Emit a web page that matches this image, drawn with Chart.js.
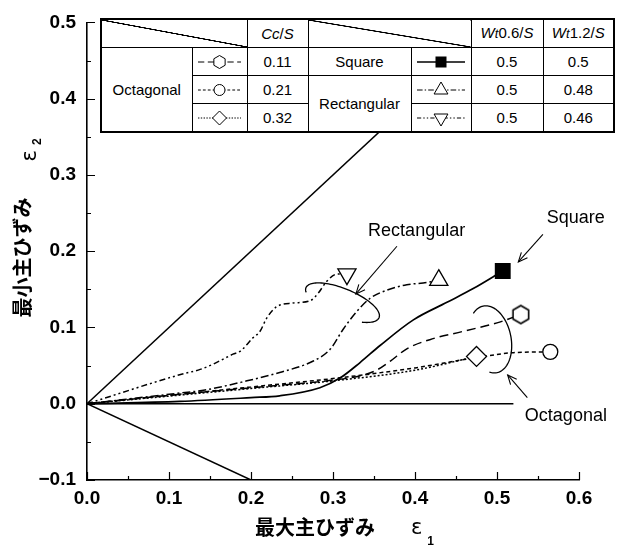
<!DOCTYPE html>
<html lang="ja">
<head>
<meta charset="utf-8">
<title>最大主ひずみ・最小主ひずみ</title>
<script src="https://cdn.jsdelivr.net/npm/chart.js@4.4.1/dist/chart.umd.min.js"></script>
<style>
  html, body { margin: 0; padding: 0; background: #fff; }
  #wrap { position: relative; width: 627px; height: 556px; overflow: hidden; }
  #chart { position: absolute; left: 0; top: 0; }
  #spec {
    position: absolute; left: 100px; top: 18px; width: 513px;
    border-collapse: collapse; table-layout: fixed; background: #fff;
    border: 2px solid #000;
    font-family: 'Liberation Sans', Arial, sans-serif; font-size: 15px; color: #000;
  }
  #spec td {
    border: 1px solid #000; padding: 0; text-align: center; vertical-align: middle;
    height: 27px; line-height: 16px; white-space: nowrap;
  }
  #spec td.diag {
    background: linear-gradient(to top right,
      transparent calc(50% - 0.8px), #000 calc(50% - 0.5px),
      #000 calc(50% + 0.5px), transparent calc(50% + 0.8px));
  }
  #spec i { font-style: italic; }
  #spec i.t { font-size: 13px; }
  #spec svg { display: block; margin: 0 auto; }
</style>
</head>
<body>
<div id="wrap">
  <canvas id="chart" width="627" height="556"></canvas>
  <table id="spec">
    <colgroup>
      <col style="width:91px"><col style="width:55px"><col style="width:61px">
      <col style="width:103px"><col style="width:60px"><col style="width:72px"><col style="width:71px">
    </colgroup>
    <tbody id="specBody"></tbody>
  </table>
</div>
<script>
// ---------- axis ticks ----------
const xTickValues = [0, 0.1, 0.2, 0.3, 0.4, 0.5, 0.6];
const yTickValues = [-0.1, 0, 0.1, 0.2, 0.3, 0.4, 0.5];

// ---------- reference lines ----------
const equalX = [0, 0.5];   const equalY = [0, 0.5];    // ε2 = ε1
const shearX = [0, 0.2];   const shearY = [0, -0.1];   // ε2 = -ε1/2
const zeroX  = [0, 0.52];  const zeroY  = [0, 0];      // ε2 = 0

// ---------- Octagonal (Cc/S = 0.11, 0.21, 0.32) ----------
const oct011X = [0, 0.1, 0.2, 0.3, 0.335, 0.353, 0.37, 0.39, 0.418, 0.459, 0.5, 0.529];
const oct011Y = [0, 0.011, 0.021, 0.031, 0.037, 0.044, 0.056, 0.072, 0.084, 0.095, 0.106, 0.117];
const oct021X = [0, 0.1, 0.2, 0.3, 0.4, 0.46, 0.49, 0.52, 0.565];
const oct021Y = [0, 0.011, 0.022, 0.033, 0.047, 0.058, 0.063, 0.067, 0.068];
const oct032X = [0, 0.1, 0.2, 0.3, 0.4, 0.475];
const oct032Y = [0, 0.010, 0.020, 0.030, 0.044, 0.062];

// ---------- Square ----------
const squareX = [0, 0.113, 0.2, 0.235, 0.284, 0.309, 0.333, 0.357, 0.398, 0.439, 0.471, 0.507];
const squareY = [0, 0.003, 0.008, 0.0104, 0.021, 0.034, 0.054, 0.076, 0.110, 0.133, 0.151, 0.174];

// ---------- Rectangular (Wt1.2/S = 0.48, 0.46) ----------
const rect048X = [0, 0.113, 0.144, 0.195, 0.235, 0.276, 0.297, 0.312, 0.329, 0.345, 0.366, 0.39, 0.415, 0.429];
const rect048Y = [0, 0.014, 0.018, 0.030, 0.041, 0.056, 0.072, 0.097, 0.121, 0.138, 0.149, 0.156, 0.159, 0.162];
const rect046X = [0, 0.113, 0.138, 0.154, 0.178, 0.187, 0.202, 0.211, 0.219, 0.231, 0.251, 0.272, 0.282, 0.292, 0.305, 0.317];
const rect046Y = [0, 0.038, 0.045, 0.052, 0.065, 0.069, 0.086, 0.095, 0.112, 0.127, 0.132, 0.135, 0.145, 0.160, 0.170, 0.170];

// ---------- specimen table ----------
const octagonalCcS = [0.11, 0.21, 0.32];
const squareRectWt06 = [0.5, 0.5, 0.5];
const squareRectWt12 = [0.5, 0.48, 0.46];

const pts = (xs, ys) => xs.map((x, i) => ({ x, y: ys[i] }));

// line styles shared by the plot and the table samples
const styles = {
  hex:     { dash: [9, 5] },
  circle:  { dash: [4, 3] },
  diamond: { dash: [2, 2] },
  square:  { dash: [] },
  triUp:   { dash: [8, 3, 2, 3] },
  triDown: { dash: [6, 3, 2, 3, 2, 3] }
};

// hexagon marker drawn once into a small canvas
function hexagonImage(r, lw) {
  const s = 2 * Math.ceil(r + lw + 1);
  const c = document.createElement('canvas');
  c.width = s; c.height = s;
  const g = c.getContext('2d');
  g.beginPath();
  for (let i = 0; i < 6; i++) {
    const a = Math.PI / 2 + i * Math.PI / 3;
    const px = s / 2 + r * Math.cos(a), py = s / 2 + r * Math.sin(a);
    i ? g.lineTo(px, py) : g.moveTo(px, py);
  }
  g.closePath();
  g.fillStyle = '#fff'; g.fill();
  g.lineWidth = lw; g.strokeStyle = '#000'; g.stroke();
  return c;
}
const hexImg = hexagonImage(9, 1.6);

// small legend samples for the table
function sampleSvg(kind, w) {
  const h = 22, cy = 11, m = 5, cx = w / 2;
  let mk = '';
  if (kind === 'hex') {
    const r = 6.5, p = [];
    for (let i = 0; i < 6; i++) {
      const a = Math.PI / 2 + i * Math.PI / 3;
      p.push((cx + r * Math.cos(a)).toFixed(2) + ',' + (cy + r * Math.sin(a)).toFixed(2));
    }
    mk = `<polygon points="${p.join(' ')}" fill="#fff" stroke="#000" stroke-width="1"/>`;
  } else if (kind === 'circle') {
    mk = `<circle cx="${cx}" cy="${cy}" r="5.5" fill="#fff" stroke="#000" stroke-width="1"/>`;
  } else if (kind === 'diamond') {
    const r = 7;
    mk = `<polygon points="${cx - r},${cy} ${cx},${cy - r} ${cx + r},${cy} ${cx},${cy + r}" fill="#fff" stroke="#000" stroke-width="1"/>`;
  } else if (kind === 'square') {
    mk = `<rect x="${cx - 5.5}" y="${cy - 5.5}" width="11" height="11" fill="#000"/>`;
  } else if (kind === 'triUp') {
    const r = 8;
    mk = `<polygon points="${cx},${cy - r} ${cx + r * 0.866},${cy + r / 2} ${cx - r * 0.866},${cy + r / 2}" fill="#fff" stroke="#000" stroke-width="1"/>`;
  } else if (kind === 'triDown') {
    const r = 8;
    mk = `<polygon points="${cx},${cy + r} ${cx + r * 0.866},${cy - r / 2} ${cx - r * 0.866},${cy - r / 2}" fill="#fff" stroke="#000" stroke-width="1"/>`;
  }
  const d = styles[kind].dash.length ? `stroke-dasharray="${styles[kind].dash.map(v => v * 0.7).join(' ')}"` : '';
  const sw = kind === 'square' ? 1.5 : 1;
  return `<svg width="${w}" height="${h}" viewBox="0 0 ${w} ${h}"><line x1="${m}" y1="${cy}" x2="${w - m}" y2="${cy}" stroke="#000" stroke-width="${sw}" ${d}/>${mk}</svg>`;
}

(function buildTable() {
  const body = document.getElementById('specBody');
  const octKinds = ['hex', 'circle', 'diamond'];
  const sqKinds = ['square', 'triUp', 'triDown'];
  let html = '<tr><td colspan="2" class="diag"></td><td><i>Cc</i>/<i>S</i></td>' +
             '<td colspan="2" class="diag"></td>' +
             '<td><i>W</i><i class="t">t</i>0.6/<i>S</i></td><td><i>W</i><i class="t">t</i>1.2/<i>S</i></td></tr>';
  for (let r = 0; r < 3; r++) {
    html += '<tr>';
    if (r === 0) html += '<td rowspan="3">Octagonal</td>';
    html += `<td>${sampleSvg(octKinds[r], 53)}</td><td>${octagonalCcS[r].toFixed(2)}</td>`;
    if (r === 0) html += '<td>Square</td>';
    if (r === 1) html += '<td rowspan="2">Rectangular</td>';
    html += `<td>${sampleSvg(sqKinds[r], 58)}</td><td>${squareRectWt06[r]}</td><td>${squareRectWt12[r]}</td>`;
    html += '</tr>';
  }
  body.innerHTML = html;
})();

// marker only on the last point of each curve
const endOnly = r => ctx => (ctx.dataIndex === ctx.dataset.data.length - 1 ? r : 0);

function curve(label, xs, ys, kind, marker, extra) {
  return Object.assign({
    label, data: pts(xs, ys), showLine: true,
    borderColor: '#000', borderWidth: 1.5, borderDash: styles[kind].dash,
    cubicInterpolationMode: 'monotone',
    pointStyle: marker, pointRadius: endOnly(8), pointBorderWidth: 1.3,
    pointBorderColor: '#000', pointBackgroundColor: '#fff'
  }, extra || {});
}
function refLine(label, xs, ys) {
  return { label, data: pts(xs, ys), showLine: true, borderColor: '#000', borderWidth: 1.5, pointRadius: 0 };
}

// inward tick marks on the left and bottom axes
const inwardTicks = {
  id: 'inwardTicks',
  afterDraw(chart) {
    const { ctx, chartArea: a, scales: { x, y } } = chart;
    ctx.save();
    ctx.strokeStyle = '#000'; ctx.lineWidth = 1.2;
    ctx.beginPath();
    const xs = xTickValues, ys = yTickValues;
    xs.forEach((v, i) => {
      const px = Math.round(x.getPixelForValue(v)) + 0.5;
      ctx.moveTo(px, a.bottom); ctx.lineTo(px, a.bottom - 8);
      if (i < xs.length - 1) {
        const pm = Math.round(x.getPixelForValue((v + xs[i + 1]) / 2)) + 0.5;
        ctx.moveTo(pm, a.bottom); ctx.lineTo(pm, a.bottom - 4);
      }
    });
    ys.forEach((v, i) => {
      const py = Math.round(y.getPixelForValue(v)) + 0.5;
      ctx.moveTo(a.left, py); ctx.lineTo(a.left + 8, py);
      if (i < ys.length - 1) {
        const pm = Math.round(y.getPixelForValue((v + ys[i + 1]) / 2)) + 0.5;
        ctx.moveTo(a.left, pm); ctx.lineTo(a.left + 4, pm);
      }
    });
    ctx.stroke();
    ctx.restore();
  }
};

// axis titles with subscripts; symOff / subOff push ε and its index toward the baseline
function drawAxisTitle(ctx, main, sym, sub, symOff, subOff) {
  ctx.textAlign = 'left'; ctx.textBaseline = 'middle'; ctx.fillStyle = '#000';
  ctx.font = "bold 20px 'Noto Sans CJK JP', sans-serif";
  ctx.fillText(main, 0, 0);
  const w = ctx.measureText(main).width;
  ctx.font = "21px 'DejaVu Sans', sans-serif";
  ctx.fillText(sym, w + 36, symOff);
  const w2 = ctx.measureText(sym).width;
  ctx.font = "bold 12px 'Liberation Sans', sans-serif";
  ctx.fillText(sub, w + 36 + w2 + 5, subOff);
}
const axisTitles = {
  id: 'axisTitles',
  afterDraw(chart) {
    const { ctx, chartArea: a } = chart;
    ctx.save();
    ctx.translate(a.left + 168, 527);
    drawAxisTitle(ctx, '最大主ひずみ', 'ε', '1', 2, 15);
    ctx.restore();
    ctx.save();
    ctx.translate(22, a.top + 295);
    ctx.rotate(-Math.PI / 2);
    drawAxisTitle(ctx, '最小主ひずみ', 'ε', '2', 9, 16);
    ctx.restore();
  }
};

// group labels, pointer arrows and enclosing arcs
const notes = [
  { text: 'Rectangular', at: [0.402, 0.227], from: [0.378, 0.2065], to: [0.328, 0.144] },
  { text: 'Square',      at: [0.596, 0.244], from: [0.556, 0.222],  to: [0.526, 0.186] },
  { text: 'Octagonal',   at: [0.584, -0.016], from: [0.537, 0.008], to: [0.513, 0.0377] }
];
const rings = [
  { at: [0.3116, 0.1325], a: 39.5, b: 14, tilt: 22.3, t0: 162, t1: 410 },
  { at: [0.4915, 0.0844], a: 34,   b: 21, tilt: 78.4, t0: 148, t1: 380 }
];
const annotations = {
  id: 'annotations',
  afterDatasetsDraw(chart) {
    const { ctx, scales: { x, y } } = chart;
    const P = p => [x.getPixelForValue(p[0]), y.getPixelForValue(p[1])];
    ctx.save();
    ctx.strokeStyle = '#000'; ctx.fillStyle = '#000'; ctx.lineWidth = 1.3;
    rings.forEach(r => {
      const [cx, cy] = P(r.at);
      const phi = r.tilt * Math.PI / 180, cu = Math.cos(phi), su = Math.sin(phi);
      ctx.beginPath();
      for (let i = 0; i <= 80; i++) {
        const t = (r.t0 + (r.t1 - r.t0) * i / 80) * Math.PI / 180;
        const ex = r.a * Math.cos(t), ey = r.b * Math.sin(t);
        const px = cx + ex * cu - ey * su, py = cy + ex * su + ey * cu;
        i ? ctx.lineTo(px, py) : ctx.moveTo(px, py);
      }
      ctx.stroke();
    });
    ctx.lineWidth = 1.1;
    notes.forEach(n => {
      const [x0, y0] = P(n.from), [x1, y1] = P(n.to);
      ctx.beginPath(); ctx.moveTo(x0, y0); ctx.lineTo(x1, y1); ctx.stroke();
      const ang = Math.atan2(y1 - y0, x1 - x0), L = 10, h = 0.42;
      ctx.beginPath();
      ctx.moveTo(x1 - L * Math.cos(ang - h), y1 - L * Math.sin(ang - h));
      ctx.lineTo(x1, y1);
      ctx.lineTo(x1 - L * Math.cos(ang + h), y1 - L * Math.sin(ang + h));
      ctx.stroke();
      const [tx, ty] = P(n.at);
      ctx.font = "18px 'Liberation Sans', Arial, sans-serif";
      ctx.textAlign = 'center'; ctx.textBaseline = 'middle';
      ctx.fillText(n.text, tx, ty);
    });
    ctx.restore();
  }
};

const tickFont = { family: "'Liberation Sans', Arial, sans-serif", size: 19, weight: 'bold' };
const fmt = v => (v < 0 ? '\u2212' + Math.abs(v).toFixed(1) : v.toFixed(1));

new Chart(document.getElementById('chart'), {
  type: 'scatter',
  data: {
    datasets: [
      curve('Square', squareX, squareY, 'square', 'rect', { pointRadius: endOnly(10.3), pointBackgroundColor: '#000', borderWidth: 1.7 }),
      curve('Octagonal 0.32', oct032X, oct032Y, 'diamond', 'rectRot', { pointRadius: endOnly(10) }),
      curve('Octagonal 0.11', oct011X, oct011Y, 'hex', hexImg),
      curve('Octagonal 0.21', oct021X, oct021Y, 'circle', 'circle', { pointRadius: endOnly(7.5) }),
      curve('Rectangular 0.48', rect048X, rect048Y, 'triUp', 'triangle', { pointRadius: endOnly(10.5) }),
      curve('Rectangular 0.46', rect046X, rect046Y, 'triDown', 'triangle', { pointRadius: endOnly(10.5), pointRotation: 180 }),
      refLine('ε2 = ε1', equalX, equalY),
      refLine('ε2 = −ε1/2', shearX, shearY),
      refLine('ε2 = 0', zeroX, zeroY)
    ]
  },
  options: {
    responsive: false,
    animation: false,
    devicePixelRatio: 1,
    events: [],
    layout: { padding: { top: 18, right: 48, left: 0, bottom: 0 } },
    plugins: { legend: { display: false }, tooltip: { enabled: false } },
    scales: {
      x: {
        type: 'linear', min: 0, max: 0.6,
        afterBuildTicks: s => { s.ticks = xTickValues.map(v => ({ value: v })); },
        afterFit: s => { s.height = 76; },
        grid: { display: true, drawOnChartArea: false, drawTicks: false },
        border: { display: true, color: '#000', width: 1.6 },
        ticks: { color: '#000', font: tickFont, padding: 7, maxRotation: 0, callback: fmt }
      },
      y: {
        type: 'linear', min: -0.1, max: 0.5,
        afterBuildTicks: s => { s.ticks = yTickValues.map(v => ({ value: v })); },
        afterFit: s => { s.width = 87; },
        grid: { display: true, drawOnChartArea: false, drawTicks: false },
        border: { display: true, color: '#000', width: 1.6 },
        ticks: { color: '#000', font: tickFont, padding: 11, callback: fmt }
      }
    }
  },
  plugins: [inwardTicks, axisTitles, annotations]
});
</script>
</body>
</html>
